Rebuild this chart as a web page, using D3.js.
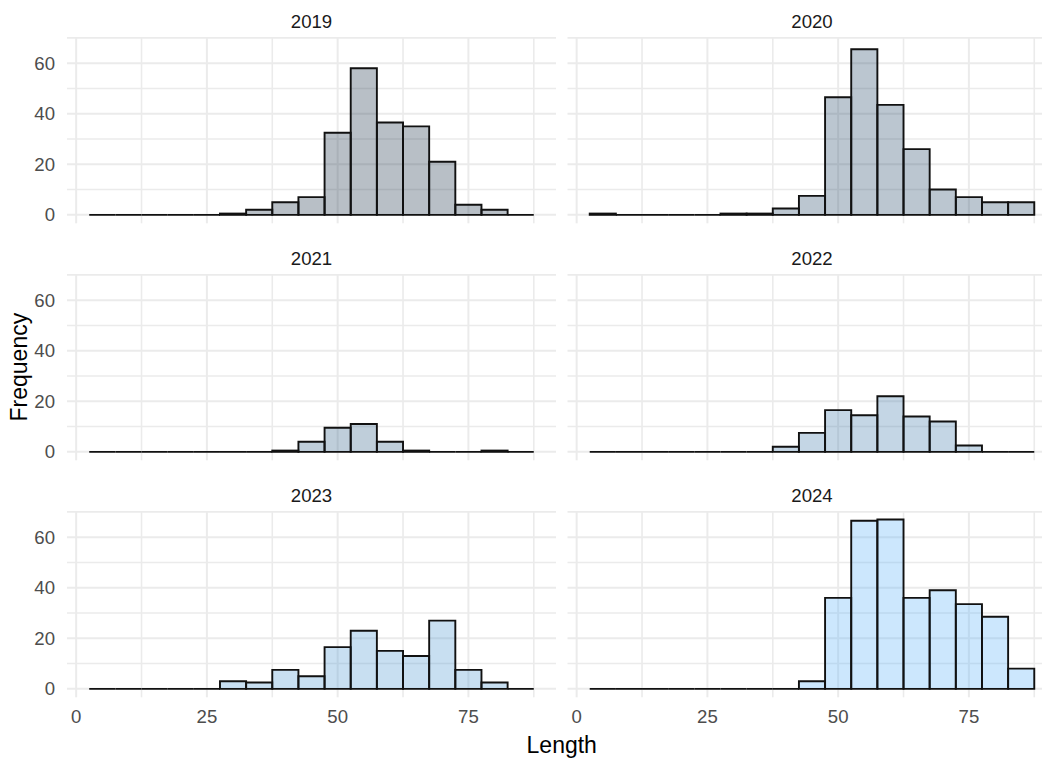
<!DOCTYPE html>
<html>
<head>
<meta charset="utf-8">
<script src="https://cdn.jsdelivr.net/npm/d3@7"></script>
<style>
  body { margin: 0; background: #fff; }
  svg { display: block; font-family: "Liberation Sans", Arial, sans-serif; }
</style>
</head>
<body>
<svg id="chart" width="1042" height="760"></svg>
<script>
// data (bin width 5, bins centred on these values)
const binMids = [5, 10, 15, 20, 25, 30, 35, 40, 45, 50, 55, 60, 65, 70, 75, 80, 85];
const years = [2019, 2020, 2021, 2022, 2023, 2024];

const freq2019 = [0, 0, 0, 0, 0, 0.5, 2, 5, 7, 32.5, 58, 36.5, 35, 21, 4, 2, 0];
const freq2020 = [0.5, 0, 0, 0, 0, 0.5, 0.5, 2.5, 7.5, 46.5, 65.5, 43.5, 26, 10, 7, 5, 5];
const freq2021 = [0, 0, 0, 0, 0, 0, 0, 0.5, 4, 9.5, 11, 4, 0.5, 0, 0, 0.5, 0];
const freq2022 = [0, 0, 0, 0, 0, 0, 0, 2, 7.5, 16.5, 14.5, 22, 14, 12, 2.5, 0, 0];
const freq2023 = [0, 0, 0, 0, 0, 3, 2.5, 7.5, 5, 16.5, 23, 15, 13, 27, 7.5, 2.5, 0];
const freq2024 = [0, 0, 0, 0, 0, 0, 0, 0, 3, 36, 66.5, 67, 36, 39, 33.5, 28.5, 8];

const xTicks = [0, 25, 50, 75];
const xMinor = [12.5, 37.5, 62.5, 87.5];
const yTicks = [0, 20, 40, 60];
const yMinor = [10, 30, 50, 70];

const binWidth = 5;
const series = [freq2019, freq2020, freq2021, freq2022, freq2023, freq2024];

// layout
const marginLeft = 67;
const marginTop = 37;
const panelW = 489;
const panelH = 186.3;
const gapX = 11.5;
const rowStep = 237;
const nCols = 2;

const svg = d3.select('#chart');

const lo = binMids[0] - binWidth / 2;
const hi = binMids[binMids.length - 1] + binWidth / 2;
const xPad = (hi - lo) * 0.05;
const x = d3.scaleLinear()
  .domain([lo - xPad, hi + xPad])
  .range([0, panelW]);

const yMax = d3.max(series, s => d3.max(s));
const y = d3.scaleLinear()
  .domain([-0.05 * yMax, 1.05 * yMax])
  .range([panelH, 0]);

const fillColor = d3.scaleLinear()
  .domain([d3.min(years), d3.max(years)])
  .range(['#132B43', '#56B1F7'])
  .interpolate(d3.interpolateLab);

years.forEach((year, i) => {
  const col = i % nCols;
  const row = Math.floor(i / nCols);
  const px = marginLeft + col * (panelW + gapX);
  const py = marginTop + row * rowStep;

  const panel = svg.append('g')
    .attr('class', 'panel')
    .attr('transform', `translate(${px}, ${py})`);

  // grid
  const grid = panel.append('g').attr('class', 'grid');
  grid.selectAll('line.vminor')
    .data(xMinor)
    .join('line')
    .attr('x1', d => x(d)).attr('x2', d => x(d))
    .attr('y1', 0).attr('y2', panelH)
    .attr('stroke', '#ebebeb').attr('stroke-width', 1.6);
  grid.selectAll('line.vmajor')
    .data(xTicks)
    .join('line')
    .attr('x1', d => x(d)).attr('x2', d => x(d))
    .attr('y1', 0).attr('y2', panelH)
    .attr('stroke', '#ebebeb').attr('stroke-width', 2);
  grid.selectAll('line.hminor')
    .data(yMinor)
    .join('line')
    .attr('x1', 0).attr('x2', panelW)
    .attr('y1', d => y(d)).attr('y2', d => y(d))
    .attr('stroke', '#ebebeb').attr('stroke-width', 1.6);
  grid.selectAll('line.hmajor')
    .data(yTicks)
    .join('line')
    .attr('x1', 0).attr('x2', panelW)
    .attr('y1', d => y(d)).attr('y2', d => y(d))
    .attr('stroke', '#ebebeb').attr('stroke-width', 2);

  // bars (paths so empty bins still draw as a line)
  const bins = binMids.map((m, k) => ({ x0: m - binWidth / 2, x1: m + binWidth / 2, n: series[i][k] }));
  panel.append('g')
    .attr('class', 'bars')
    .selectAll('path')
    .data(bins)
    .join('path')
    .attr('d', d => `M${x(d.x0)},${y(0)}V${y(d.n)}H${x(d.x1)}V${y(0)}Z`)
    .attr('fill', fillColor(year))
    .attr('fill-opacity', 0.3)
    .attr('stroke', '#111')
    .attr('stroke-width', 1.9)
    .attr('stroke-linejoin', 'miter');

  // strip title
  svg.append('text')
    .attr('x', px + panelW / 2)
    .attr('y', py - 9)
    .attr('text-anchor', 'middle')
    .attr('font-size', 18.6)
    .attr('fill', '#1a1a1a')
    .text(year);

  // y axis labels on the first column
  if (col === 0) {
    svg.append('g')
      .attr('class', 'yAxis')
      .selectAll('text')
      .data(yTicks)
      .join('text')
      .attr('x', px - 12)
      .attr('y', d => py + y(d) + 6.6)
      .attr('text-anchor', 'end')
      .attr('font-size', 18.6)
      .attr('fill', '#4d4d4d')
      .text(d => d);
  }

  // x axis labels on the bottom row
  if (row === Math.ceil(years.length / nCols) - 1) {
    svg.append('g')
      .attr('class', 'xAxis')
      .selectAll('text')
      .data(xTicks)
      .join('text')
      .attr('x', d => px + x(d))
      .attr('y', py + panelH + 26)
      .attr('text-anchor', 'middle')
      .attr('font-size', 18.6)
      .attr('fill', '#4d4d4d')
      .text(d => d);
  }
});

const plotRight = marginLeft + nCols * panelW + gapX;
const plotBottom = marginTop + 2 * rowStep + panelH;

svg.append('text')
  .attr('x', (marginLeft + plotRight) / 2)
  .attr('y', 753)
  .attr('text-anchor', 'middle')
  .attr('font-size', 23)
  .attr('fill', '#000')
  .text('Length');

svg.append('text')
  .attr('transform', `translate(27, ${(marginTop + plotBottom) / 2}) rotate(-90)`)
  .attr('text-anchor', 'middle')
  .attr('font-size', 23)
  .attr('fill', '#000')
  .text('Frequency');
</script>
</body>
</html>
